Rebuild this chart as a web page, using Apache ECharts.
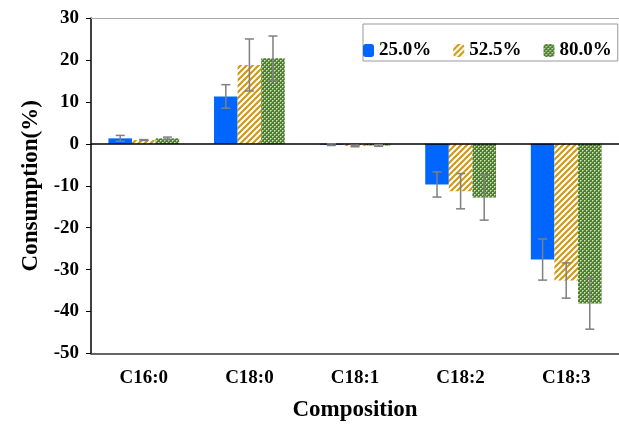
<!DOCTYPE html>
<html><head><meta charset="utf-8">
<script src="https://cdn.jsdelivr.net/npm/echarts@6/dist/echarts.min.js"></script>
<style>html,body{margin:0;padding:0;background:#fff}#c{width:619px;height:424px}</style>
</head><body><div id="c"></div>
<script>
const categories = ['C16:0', 'C18:0', 'C18:1', 'C18:2', 'C18:3'];
const seriesNames = ['25.0%', '52.5%', '80.0%'];
const v25 = [1.3, 11.3, -0.2, -9.7, -27.6];
const v52 = [0.9, 18.8, -0.5, -11.3, -32.6];
const v80 = [1.3, 20.4, -0.4, -12.8, -38.1];
const e25 = [0.7, 2.8, 0.2, 3.0, 4.9];
const e52 = [0.1, 6.2, 0.2, 4.2, 4.2];
const e80 = [0.3, 5.3, 0.2, 5.4, 6.1];
const yMin = -50, yMax = 30, yStep = 10;

const FONT = '"Liberation Serif", "Times New Roman", serif';

function stripePattern() {
  const c = document.createElement('canvas'); c.width = 6; c.height = 6;
  const g = c.getContext('2d');
  g.fillStyle = '#ffffff'; g.fillRect(0, 0, 6, 6);
  g.strokeStyle = '#d09a12'; g.lineWidth = 2.2;
  [[-6, 6, 6, -6], [0, 6, 6, 0], [0, 12, 12, 0]].forEach(l => {
    g.beginPath(); g.moveTo(l[0], l[1]); g.lineTo(l[2], l[3]); g.stroke();
  });
  return c;
}
function checkPattern() {
  const c = document.createElement('canvas'); c.width = 4; c.height = 4;
  const g = c.getContext('2d');
  g.fillStyle = '#4e7d33'; g.fillRect(0, 0, 4, 4);
  g.fillStyle = '#d2e3be';
  g.fillRect(0, 0, 1, 1); g.fillRect(2, 2, 1, 1);
  g.fillStyle = '#9aba7a';
  g.fillRect(1, 0, 1, 1); g.fillRect(0, 1, 1, 1); g.fillRect(3, 2, 1, 1); g.fillRect(2, 3, 1, 1);
  return c;
}

const values = [v25, v52, v80];
const errs = [e25, e52, e80];
const fills = [
  '#0066ff',
  { image: stripePattern(), repeat: 'repeat' },
  { image: checkPattern(), repeat: 'repeat' }
];
const GAP = 0.33;

function errRender(si) {
  return function (params, api) {
    const x = api.value(0), v = api.value(1), e = api.value(2);
    const hi = api.coord([x, v + e]);
    const lo = api.coord([x, v - e]);
    const band = api.size([1, 0])[0];
    const bw = band * (1 - GAP) / 3;
    const cx = hi[0] + (si - 1) * bw;
    const cap = 4.5;
    const st = { stroke: '#7f7f7f', lineWidth: 1.5 };
    return { type: 'group', children: [
      { type: 'line', shape: { x1: cx, y1: hi[1], x2: cx, y2: lo[1] }, style: st },
      { type: 'line', shape: { x1: cx - cap, y1: hi[1], x2: cx + cap, y2: hi[1] }, style: st },
      { type: 'line', shape: { x1: cx - cap, y1: lo[1], x2: cx + cap, y2: lo[1] }, style: st }
    ]};
  };
}

const series = [];
seriesNames.forEach((n, i) => {
  const s = {
    name: n, type: 'bar', data: values[i], barGap: '0%', barCategoryGap: (GAP * 100) + '%',
    itemStyle: { color: fills[i] }, z: 2
  };
  if (i === 0) {
    s.markLine = { silent: true, symbol: ['none', 'none'], label: { show: false },
      lineStyle: { color: '#000', width: 1.5, type: 'solid' }, data: [{ yAxis: 0 }], z: 5 };
  }
  series.push(s);
});
seriesNames.forEach((n, i) => {
  series.push({
    type: 'custom', name: n + ' err', renderItem: errRender(i), z: 10,
    data: categories.map((c, k) => [k, values[i][k], errs[i][k]])
  });
});

const chart = echarts.init(document.getElementById('c'), null, { renderer: 'canvas' });
chart.setOption({
  animation: false,
  backgroundColor: '#fff',
  grid: { left: 91, top: 18, right: 0, bottom: 70.5, outerBoundsMode: 'none', containLabel: false },
  legend: {
    data: seriesNames, left: 363, top: 24, orient: 'horizontal',
    padding: [17, 6, 1, 0], itemGap: 22, itemWidth: 11, itemHeight: 13,
    borderColor: '#999', borderWidth: 1, backgroundColor: '#fff',
    textStyle: { fontFamily: FONT, fontWeight: 'bold', fontSize: 19, color: '#000' }
  },
  xAxis: [{
    type: 'category', data: categories, position: 'bottom',
    axisLine: { onZero: false, lineStyle: { color: '#333', width: 1.5 } },
    axisTick: { show: false },
    axisLabel: { fontFamily: FONT, fontWeight: 'bold', fontSize: 19, color: '#000', margin: 15 },
    name: 'Composition', nameLocation: 'middle', nameGap: 45,
    nameTextStyle: { fontFamily: FONT, fontWeight: 'bold', fontSize: 23, color: '#000' }
  }, {
    type: 'category', data: categories, position: 'top',
    axisLine: { onZero: false, lineStyle: { color: '#aaa', width: 1 } },
    axisTick: { show: false }, axisLabel: { show: false }
  }],
  yAxis: {
    type: 'value', min: yMin, max: yMax, interval: yStep,
    axisLine: { show: true, lineStyle: { color: '#000', width: 1.5 } },
    axisTick: { show: true, inside: false, length: 5, lineStyle: { color: '#000' } },
    splitLine: { show: false },
    axisLabel: { fontFamily: FONT, fontWeight: 'bold', fontSize: 19, color: '#000', margin: 12 },
    name: 'Consumption(%)', nameLocation: 'middle', nameGap: 48,
    nameTextStyle: { fontFamily: FONT, fontWeight: 'bold', fontSize: 23, color: '#000' }
  },
  series: series
});
</script></body></html>
